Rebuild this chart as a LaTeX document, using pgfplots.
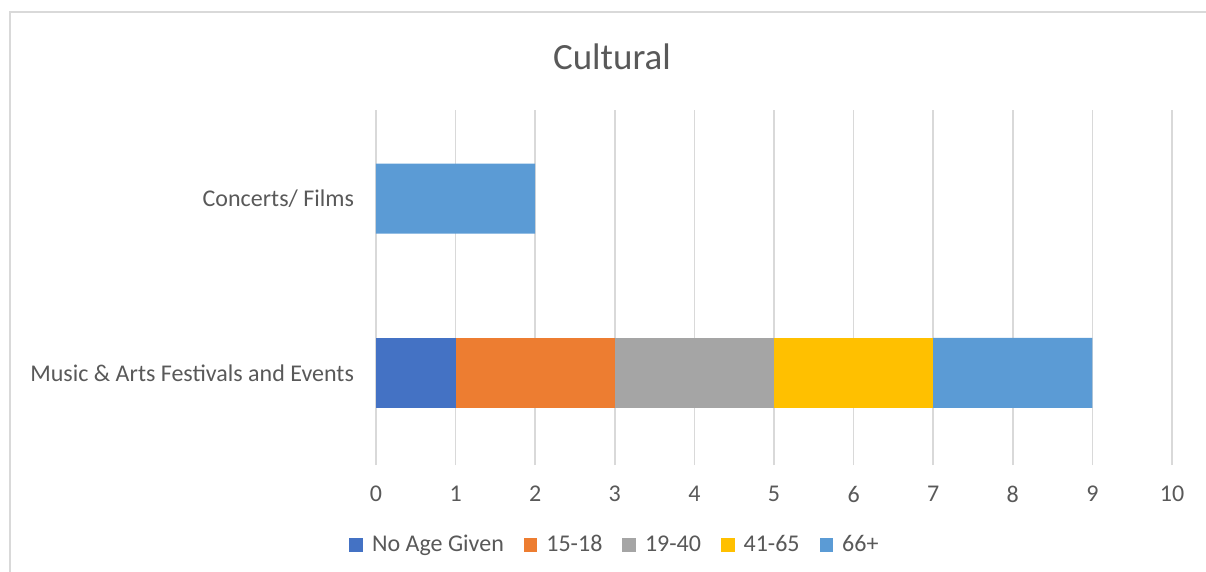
\documentclass[border=0pt]{standalone}
\usepackage{fontspec}
\setmainfont{Carlito}
\usepackage{pgfplots}
\pgfplotsset{compat=1.18}
\definecolor{cA}{HTML}{4472C4}
\definecolor{cB}{HTML}{ED7D31}
\definecolor{cC}{HTML}{A5A5A5}
\definecolor{cD}{HTML}{FFC000}
\definecolor{cE}{HTML}{5B9BD5}
\definecolor{txt}{HTML}{595959}
\definecolor{grd}{HTML}{D9D9D9}
\begin{document}
\begin{tikzpicture}
\useasboundingbox (0,0) rectangle (603pt,-286pt);
\draw[grd, line width=0.6pt] (5pt,-286pt) -- (5pt,-6pt) -- (603pt,-6pt);
\node[text=txt, font=\fontsize{18.5}{22}\selectfont] at (306pt,-28.5pt) {Cultural};
\begin{axis}[
  at={(188pt,-232.5pt)}, anchor=south west,
  scale only axis, width=398pt, height=177.5pt,
  xbar stacked, bar width=35pt,
  xmin=0, xmax=10, ymin=-0.53, ymax=1.51,
  xtick={0,...,10}, ytick={0,1},
  yticklabels={Music \& Arts Festivals and Events, Concerts/ Films},
  axis line style={draw=none},
  major tick style={draw=none},
  xmajorgrids, grid style={grd, line width=0.75pt},
  tick label style={text=txt, font=\fontsize{12}{14}\selectfont},
  /pgf/number format/assume math mode=true,
  xticklabel style={yshift=-7pt},
  yticklabel style={xshift=-7.5pt},
  legend columns=-1,
  legend style={draw=none, at={(0.3015,-0.2254)}, anchor=center,
    font=\fontsize{12}{14}\selectfont, text=txt,
    /tikz/every even column/.append style={column sep=8pt}},
  legend image code/.code={\fill[#1] (0pt,-3.4pt) rectangle (6.8pt,3.4pt); \path (9.3pt,0pt);},
]
\addplot[fill=cA, draw=none] coordinates {(1,0) (0,1)};
\addplot[fill=cB, draw=none] coordinates {(2,0) (0,1)};
\addplot[fill=cC, draw=none] coordinates {(2,0) (0,1)};
\addplot[fill=cD, draw=none] coordinates {(2,0) (0,1)};
\addplot[fill=cE, draw=none] coordinates {(2,0) (2,1)};
\legend{No Age Given, 15-18, 19-40, 41-65, 66+}
\end{axis}
\end{tikzpicture}
\end{document}
